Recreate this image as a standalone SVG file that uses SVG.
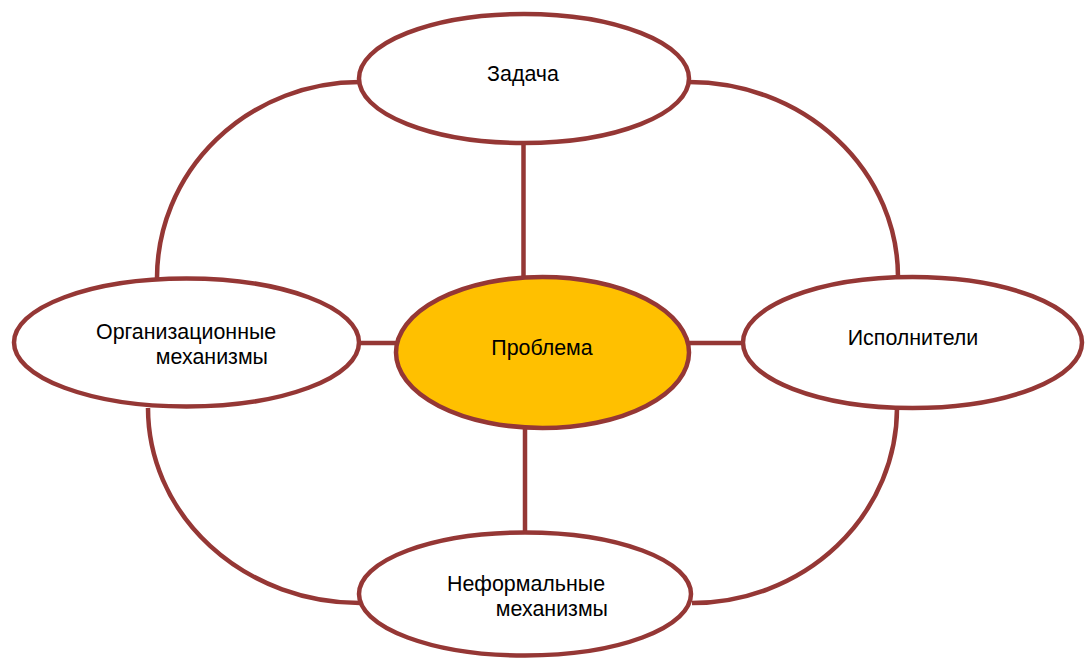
<svg xmlns="http://www.w3.org/2000/svg" width="1085" height="658" viewBox="0 0 1085 658">
<style>
.c{fill:none;stroke:#953735;stroke-width:4.5}
.n{fill:#ffffff;stroke:#953735;stroke-width:4.5}
.core{fill:#ffc000;stroke:#953735;stroke-width:4.5}
text{font-family:"Liberation Sans",Arial,sans-serif;font-size:21.4px;fill:#000}
</style>
<rect width="1085" height="658" fill="#ffffff"/>
<g id="connectors">
<path class="c" d="M360 82 A203 196 0 0 0 157 278"/>
<path class="c" d="M689 82 A209 195 0 0 1 898 277"/>
<path class="c" d="M148 408 A212 195 0 0 0 360 603"/>
<path class="c" d="M897 408 A205 195 0 0 1 692 603"/>
<line class="c" x1="523.5" y1="143" x2="523.5" y2="278"/>
<line class="c" x1="525" y1="427" x2="525" y2="533"/>
<line class="c" x1="358" y1="343" x2="397" y2="343"/>
<line class="c" x1="688" y1="343" x2="744" y2="343"/>
</g>
<g id="node-zadacha">
<ellipse class="n" cx="524" cy="78.5" rx="165" ry="64.5"/>
<text x="523" y="81" text-anchor="middle">Задача</text>
</g>
<g id="node-org">
<ellipse class="n" cx="186.5" cy="342.5" rx="172.5" ry="64"/>
<text x="96" y="339">Организационные</text>
<text x="268" y="364" text-anchor="end">механизмы</text>
</g>
<g id="node-problema">
<ellipse class="core" cx="542.5" cy="352.5" rx="146.5" ry="75.5"/>
<text x="542" y="355" text-anchor="middle">Проблема</text>
</g>
<g id="node-ispolniteli">
<ellipse class="n" cx="912.5" cy="342.5" rx="169.5" ry="65.5"/>
<text x="913" y="345" text-anchor="middle">Исполнители</text>
</g>
<g id="node-neformal">
<ellipse class="n" cx="525" cy="594" rx="166" ry="61.5"/>
<text x="447" y="591">Неформальные</text>
<text x="608" y="616" text-anchor="end">механизмы</text>
</g>
</svg>
